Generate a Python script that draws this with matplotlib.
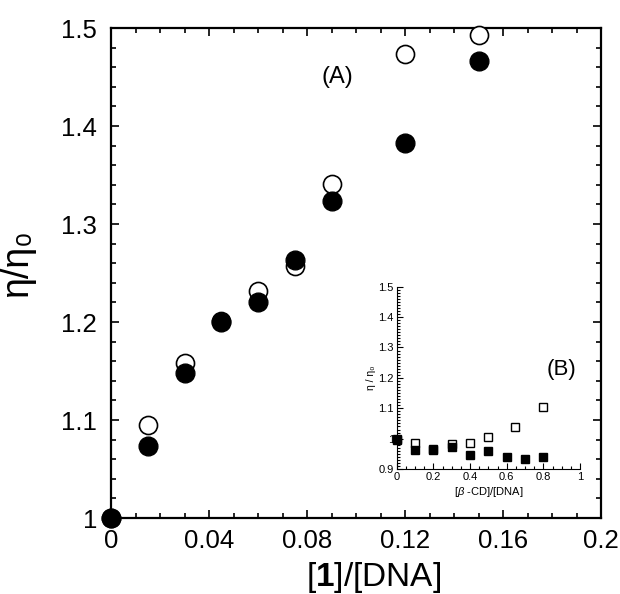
import matplotlib
matplotlib.use("Agg")
import matplotlib.pyplot as plt
from matplotlib.ticker import MultipleLocator

plt.rcParams['font.family'] = ['Liberation Sans', 'DejaVu Sans']
plt.rcParams['mathtext.fontset'] = 'custom'
plt.rcParams['mathtext.rm'] = 'Liberation Sans'
plt.rcParams['mathtext.bf'] = 'Liberation Sans:bold'
plt.rcParams['mathtext.it'] = 'Liberation Sans:italic'

# Main panel (A)
ratio_A = [0.0, 0.015, 0.03, 0.045, 0.06, 0.075, 0.09, 0.12, 0.15]
open_A = [1.0, 1.095, 1.158, 1.201, 1.232, 1.257, 1.341, 1.4735, 1.4925]
filled_A = [1.0, 1.073, 1.148, 1.200, 1.220, 1.263, 1.3235, 1.3823, 1.4665]

# Inset panel (B)
ratio_B_open = [0.0, 0.1, 0.2, 0.3, 0.4, 0.5, 0.645, 0.8]
open_B = [0.998, 0.987, 0.965, 0.982, 0.987, 1.006, 1.039, 1.105]
ratio_B_filled = [0.0, 0.1, 0.2, 0.3, 0.4, 0.5, 0.6, 0.7, 0.8]
filled_B = [0.995, 0.9625, 0.962, 0.971, 0.946, 0.960, 0.940, 0.932, 0.940]

xticks_A = [0, 0.04, 0.08, 0.12, 0.16, 0.2]
xticklabels_A = ['0', '0.04', '0.08', '0.12', '0.16', '0.2']
yticks_A = [1.0, 1.1, 1.2, 1.3, 1.4, 1.5]
yticklabels_A = ['1', '1.1', '1.2', '1.3', '1.4', '1.5']
xticks_B = [0, 0.2, 0.4, 0.6, 0.8, 1.0]
xticklabels_B = ['0', '0.2', '0.4', '0.6', '0.8', '1']
yticks_B = [0.9, 1.0, 1.1, 1.2, 1.3, 1.4, 1.5]
yticklabels_B = ['0.9', '1', '1.1', '1.2', '1.3', '1.4', '1.5']

W, H = 620, 594
fig = plt.figure(figsize=(W/100, H/100), dpi=100)
ax = fig.add_axes([111/W, 1-518/H, 490/W, 490/H])

ax.plot(ratio_A, open_A, linestyle='none', marker='o', markersize=13,
        markerfacecolor='white', markeredgecolor='black', markeredgewidth=1.2,
        clip_on=False, zorder=3)
ax.plot(ratio_A, filled_A, linestyle='none', marker='o', markersize=13.5,
        markerfacecolor='black', markeredgecolor='black', clip_on=False, zorder=4)

ax.set_xlim(0, 0.2)
ax.set_ylim(1.0, 1.5)
ax.set_xticks(xticks_A)
ax.set_xticklabels(xticklabels_A)
ax.set_yticks(yticks_A)
ax.set_yticklabels(yticklabels_A)
ax.xaxis.set_minor_locator(MultipleLocator(0.01))
ax.yaxis.set_minor_locator(MultipleLocator(0.02))
ax.tick_params(which='both', direction='in', top=True, right=True, width=1.2)
ax.tick_params(which='major', length=6, labelsize=18.5, pad=8)
ax.tick_params(which='minor', length=3.5)
ax.tick_params(axis='y', which='major', pad=10)
for s in ax.spines.values():
    s.set_linewidth(1.6)

ax.set_xlabel(r'[$\mathbf{1}$]/[DNA]', fontsize=24)
ax.xaxis.set_label_coords(0.535, -0.085)
ax.set_ylabel('η/η₀', fontsize=27)
ax.yaxis.set_label_coords(-0.155, 0.52)

fig.text(337/W, 1-77/H, '(A)', fontsize=17, ha='center', va='center')

# Inset
axi = fig.add_axes([396.7/W, 1-469/H, 183.3/W, 182.3/H])
axi.plot(ratio_B_open, open_B, linestyle='none', marker='s', markersize=5.5,
         markerfacecolor='white', markeredgecolor='black', markeredgewidth=1.0,
         clip_on=False, zorder=3)
axi.plot(ratio_B_filled, filled_B, linestyle='none', marker='s', markersize=5.5,
         markerfacecolor='black', markeredgecolor='black', clip_on=False, zorder=4)
axi.set_xlim(0, 1.0)
axi.set_ylim(0.9, 1.5)
axi.set_xticks(xticks_B)
axi.set_xticklabels(xticklabels_B)
axi.set_yticks(yticks_B)
axi.set_yticklabels(yticklabels_B)
axi.xaxis.set_minor_locator(MultipleLocator(0.05))
axi.yaxis.set_minor_locator(MultipleLocator(0.01))
axi.spines['top'].set_visible(False)
axi.spines['right'].set_visible(False)
axi.patch.set_alpha(0)
axi.tick_params(which='both', direction='in', width=0.8)
axi.tick_params(which='major', length=4, labelsize=8, pad=2)
axi.tick_params(which='minor', length=2.5)
axi.set_xlabel(r'[$\mathit{β}$ -CD]/[DNA]', fontsize=8, labelpad=2)
axi.set_ylabel('η / η₀', fontsize=7.5, labelpad=2)
fig.text(561.7/W, 1-370/H, '(B)', fontsize=16, ha='center', va='center')

fig.savefig('out.png', dpi=100)
